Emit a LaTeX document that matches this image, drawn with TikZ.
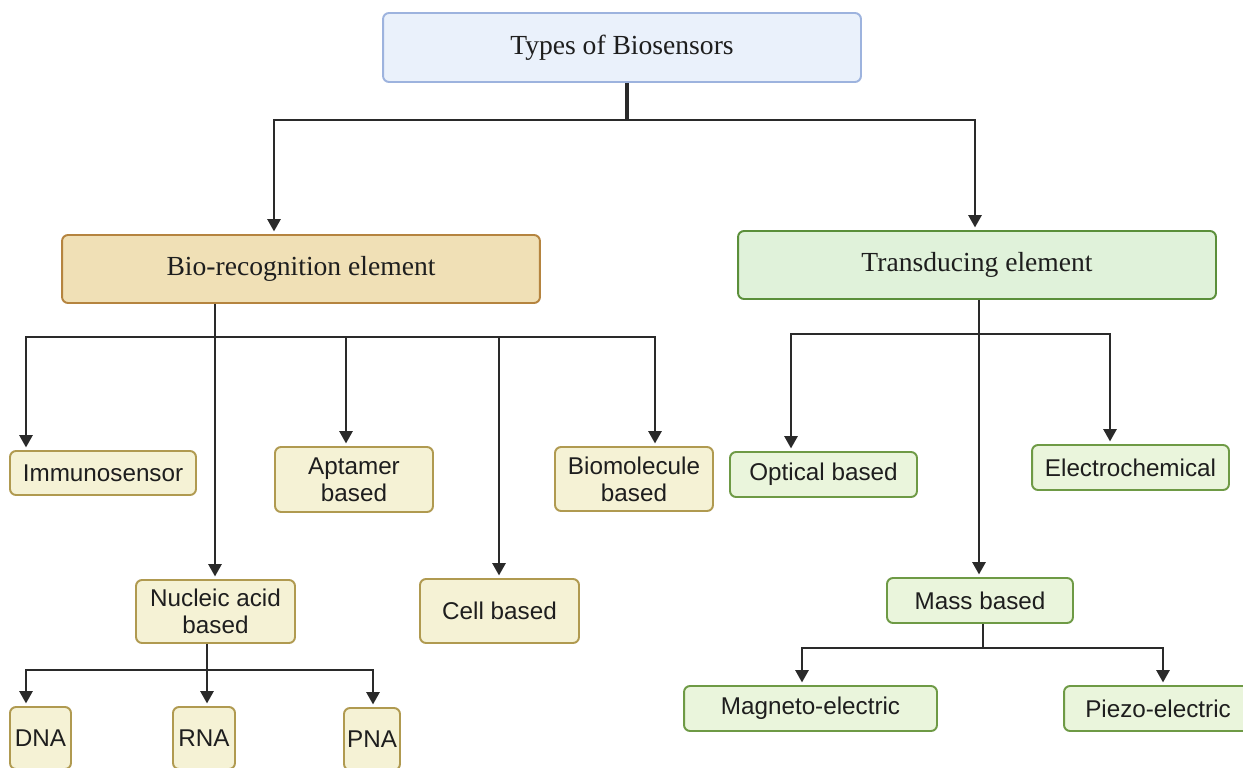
\documentclass[tikz,border=0pt]{standalone}
\usepackage{fontspec}
\setmainfont{Liberation Serif}
\setsansfont{Liberation Sans}
\usepackage{tikz}
\usetikzlibrary{arrows.meta,positioning}
\definecolor{topfill}{HTML}{EAF1FB}
\definecolor{topdraw}{HTML}{9DB3DE}
\definecolor{biofill}{HTML}{F0E0B6}
\definecolor{biodraw}{HTML}{B5843F}
\definecolor{yfill}{HTML}{F5F2D5}
\definecolor{ydraw}{HTML}{B09A50}
\definecolor{trfill}{HTML}{E0F2DA}
\definecolor{trdraw}{HTML}{5B8F3A}
\definecolor{gfill}{HTML}{EAF5DC}
\definecolor{gdraw}{HTML}{6E9A45}
\definecolor{txt}{HTML}{1E1E1E}
\definecolor{wire}{HTML}{2A2A2A}

\begin{document}
\begin{tikzpicture}[x=0.02cm,y=-0.02cm,
    box/.style={draw,rounded corners=3.4pt,line width=1.1pt,inner sep=0pt,
      align=center,text=txt},
    head/.style={box,font=\fontsize{15.7}{18}\selectfont,
      minimum width=9.56cm,minimum height=1.36cm},
    yleaf/.style={box,fill=yfill,draw=ydraw,
      font=\sffamily\fontsize{13.8}{15.5}\selectfont},
    gleaf/.style={box,fill=gfill,draw=gdraw,
      font=\sffamily\fontsize{13.8}{15.5}\selectfont},
    line/.style={draw=wire,line width=1.2pt},
    arr/.style={line,-{Triangle[width=7.5pt,length=7pt]},shorten >=1.5pt}]
  \clip (0,0) rectangle (1243,767);
  \fill[white] (0,0) rectangle (1243,767);

  % level 0 and 1
  \node[head,fill=topfill,draw=topdraw,minimum height=1.38cm] (top) at (622,47.5) {Types of Biosensors};
  \node[head,fill=biofill,draw=biodraw] (bio) at (301,269) {Bio-recognition element};
  \node[head,fill=trfill,draw=trdraw] (trans) at (977,265) {Transducing element};

  % bio-recognition side
  \node[yleaf,minimum width=3.72cm,minimum height=0.88cm] (immuno) at (103,473) {Immunosensor};
  \node[yleaf,minimum width=3.16cm,minimum height=1.30cm] (aptamer) at (354,479.5) {Aptamer\\based};
  \node[yleaf,minimum width=3.16cm,minimum height=1.28cm] (biomol) at (634,479) {Biomolecule\\based};
  \node[yleaf,minimum width=3.18cm,minimum height=1.26cm] (nucleic) at (215.5,611.5) {Nucleic acid\\based};
  \node[yleaf,minimum width=3.18cm,minimum height=1.28cm] (cell) at (499.5,611) {Cell based};
  \node[yleaf,minimum width=1.22cm,minimum height=1.24cm] (dna) at (40.5,738) {DNA};
  \node[yleaf,minimum width=1.24cm,minimum height=1.24cm] (rna) at (204,738) {RNA};
  \node[yleaf,minimum width=1.12cm,minimum height=1.24cm] (pna) at (372,739) {PNA};

  % transducing side
  \node[gleaf,minimum width=3.74cm,minimum height=0.90cm] (optical) at (823.5,474.5) {Optical based};
  \node[gleaf,minimum width=3.94cm,minimum height=0.90cm] (electro) at (1130.5,467.5) {Electrochemical};
  \node[gleaf,minimum width=3.72cm,minimum height=0.90cm] (mass) at (980,600.5) {Mass based};
  \node[gleaf,minimum width=5.06cm,minimum height=0.90cm] (magneto) at (810.5,708.5) {Magneto-electric};
  \node[gleaf,minimum width=3.76cm,minimum height=0.90cm] (piezo) at (1158,708.5) {Piezo-electric};

  % junctions
  \coordinate (jtop) at (627,120);
  \coordinate (jbio) at (215,337);
  \coordinate (jna) at (207,670);
  \coordinate (jtr) at (979,334);
  \coordinate (jms) at (983,648);

  % connectors
  \draw[line,line width=2.4pt] (top.south -| jtop) -- (jtop);
  \draw[arr] (jtop) -| (bio.north -| 274,0);
  \draw[arr] (jtop) -| (trans.north -| 975,0);

  \draw[arr] (bio.south -| jbio) -- (nucleic.north -| jbio);
  \draw[arr] (jbio) -| (immuno.north -| 26,0);
  \draw[arr] (jbio) -| (aptamer.north -| 346,0);
  \draw[arr] (jbio) -| (cell.north -| 499,0);
  \draw[arr] (jbio) -| (biomol.north -| 655,0);

  \draw[line] (nucleic.south -| jna) -- (jna);
  \draw[arr] (jna) -| (dna.north -| 26,0);
  \draw[arr] (jna) -- (rna.north -| jna);
  \draw[arr] (jna) -| (pna.north -| 373,0);

  \draw[arr] (trans.south -| jtr) -- (mass.north -| jtr);
  \draw[arr] (jtr) -| (optical.north -| 791,0);
  \draw[arr] (jtr) -| (electro.north -| 1110,0);

  \draw[line] (mass.south -| jms) -- (jms);
  \draw[arr] (jms) -| (magneto.north -| 802,0);
  \draw[arr] (jms) -| (piezo.north -| 1163,0);
\end{tikzpicture}
\end{document}
